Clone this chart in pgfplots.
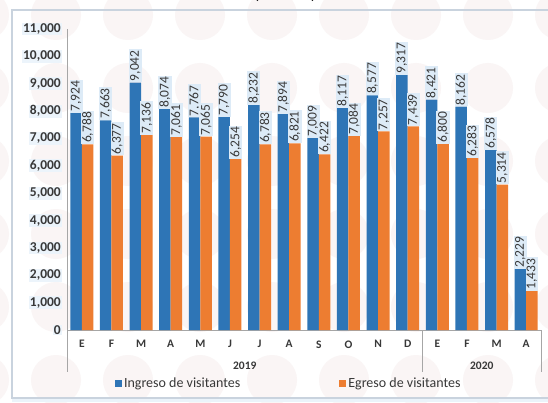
\documentclass[border=0pt]{standalone}
\usepackage{pgfplots}
\pgfplotsset{compat=1.18}
\usepackage{fontspec}
\setmainfont{Carlito}
\definecolor{bblue}{HTML}{2E75B6}
\definecolor{borange}{HTML}{ED7D31}
\definecolor{lblbg}{HTML}{DDEBF7}
\definecolor{txt}{HTML}{383838}
\definecolor{frame}{HTML}{C9D3DE}
\definecolor{wm}{HTML}{FAF5F5}
\begin{document}
\begin{tikzpicture}
\useasboundingbox (0,0) rectangle (548pt,402pt);
\fill[white] (0,0) rectangle (548pt,402pt);
\foreach \cx in {-16,56,128,200,272,344,416,488,560}{
  \foreach \cy in {387,314,241,168,95,22}{
    \fill[wm] (\cx pt,\cy pt) circle (25pt);
  }
}
\fill[lblbg!60] (12pt,0pt) rectangle (548pt,4pt);
\draw[color=frame, line width=1.2pt] (12pt,4pt) rectangle (560pt,392pt);
\node[anchor=base, font=\fontsize{14}{16}\selectfont\bfseries] at (285pt,402.5pt) {(Personas)};
\begin{axis}[
  at={(67pt,72pt)}, anchor=south west,
  scale only axis, width=474pt, height=301pt,
  ybar=0pt, bar width=11.5pt,
  xmin=-0.5, xmax=15.5, ymin=0, ymax=11000,
  clip=false,
  axis x line=bottom, axis y line=left,
  axis line style={color=gray!70, line width=0.8pt, -},
  major tick length=0pt,
  ytick={0,1000,...,11000},
  scaled y ticks=false,
  yticklabel={\pgfmathprintnumber[fixed,precision=0,1000 sep={,}]{\tick}},
  xtick={0,...,15},
  xticklabels={E,F,M,A,M,J,J,A,S,O,N,D,E,F,M,A},
  /pgf/number format/1000 sep={,},
  /pgf/number format/assume math mode=true,
  yticklabel style={font=\fontsize{13.5}{15}\selectfont\bfseries, text=txt, xshift=-5pt, fill=lblbg!55, inner sep=1pt},
  xticklabel style={font=\fontsize{11.5}{13}\selectfont\bfseries, text=txt, yshift=-7pt},
  nodes near coords,
  every node near coord/.append style={rotate=90, anchor=west, font=\fontsize{13.5}{15}\selectfont, text=txt, fill=lblbg, inner sep=1.2pt},
  legend style={at={(0.468,-0.179)}, anchor=center, draw=none, fill=none,
    font=\fontsize{14}{16}\selectfont, text=txt, legend columns=2,
    /tikz/every even column/.append style={column sep=97pt}},
  legend image code/.code={\fill[#1] (0pt,-3.5pt) rectangle (7pt,3.5pt);},
]
\addplot[fill=bblue, draw=none] coordinates {
(0,7924) (1,7663) (2,9042) (3,8074) (4,7767) (5,7790) (6,8232) (7,7894)
(8,7009) (9,8117) (10,8577) (11,9317) (12,8421) (13,8162) (14,6578) (15,2229)};
\addplot[fill=borange, draw=none] coordinates {
(0,6788) (1,6377) (2,7136) (3,7061) (4,7065) (5,6254) (6,6783) (7,6821)
(8,6422) (9,7084) (10,7257) (11,7439) (12,6800) (13,6283) (14,5314) (15,1433)};
\legend{Ingreso de visitantes, Egreso de visitantes}
\draw[gray!70, line width=0.8pt] (axis cs:-0.5,0) -- ([yshift=-42pt]axis cs:-0.5,0);
\draw[gray!70, line width=0.8pt] (axis cs:11.5,0) -- ([yshift=-42pt]axis cs:11.5,0);
\draw[gray!70, line width=0.8pt] (axis cs:15.5,0) -- ([yshift=-42pt]axis cs:15.5,0);
\node[font=\fontsize{11.5}{13}\selectfont\bfseries, text=txt] at ([yshift=-36pt]axis cs:5.5,0) {2019};
\node[font=\fontsize{11.5}{13}\selectfont\bfseries, text=txt] at ([yshift=-36pt]axis cs:13.5,0) {2020};
\end{axis}
\end{tikzpicture}
\end{document}
